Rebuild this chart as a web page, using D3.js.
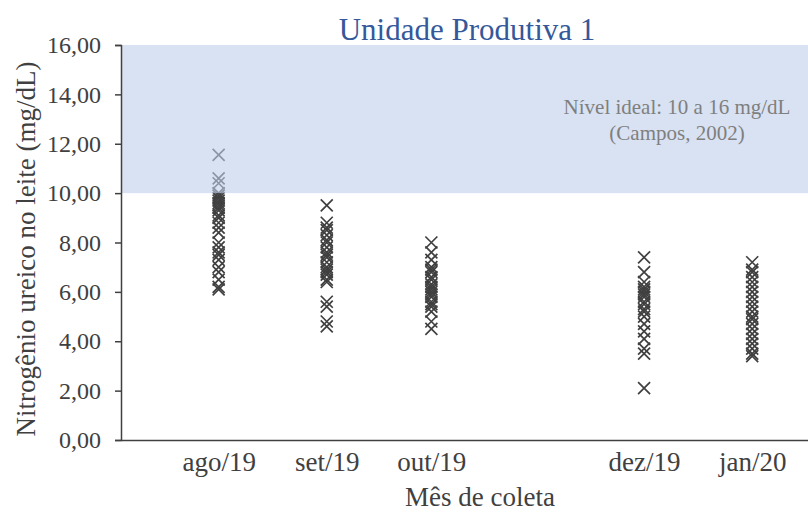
<!DOCTYPE html>
<html>
<head>
<meta charset="utf-8">
<script src="https://cdn.jsdelivr.net/npm/d3@7"></script>
<style>
body { margin: 0; background: #fff; }
svg, text { font-family: 'Liberation Serif', 'Times New Roman', serif; }
.tick-label { font-size: 24px; fill: #404040; }
.x-label { font-size: 27px; fill: #404040; }
.axis-title { font-size: 27px; fill: #404040; }
.note { font-size: 21px; fill: #7f7f7f; }
.mark { stroke: #404040; stroke-width: 1.7; fill: none; }
</style>
</head>
<body>
<div id="chart"></div>
<script>
// meses de coleta (dia da coleta) e rotulos
let months = ['ago/19', 'set/19', 'out/19', 'dez/19', 'jan/20']
let dates = ['2019-08-01', '2019-09-01', '2019-10-01', '2019-12-01', '2020-01-01']

// NUL (mg/dL) por mes
let ago19 = [11.55, 10.6, 10.4, 10.0, 9.9, 9.8, 9.7, 9.6, 9.5, 9.4, 9.3, 9.1, 9.0, 8.8, 8.6, 8.4, 8.0, 7.8, 7.6, 7.5, 7.3, 7.0, 6.8, 6.5, 6.2, 6.1]
let set19 = [9.5, 8.8, 8.6, 8.5, 8.3, 8.1, 8.0, 7.8, 7.6, 7.5, 7.4, 7.2, 7.0, 6.9, 6.8, 6.7, 6.5, 6.4, 5.6, 5.4, 4.8, 4.6]
let out19 = [8.0, 7.6, 7.3, 7.0, 6.9, 6.8, 6.6, 6.5, 6.3, 6.2, 6.1, 6.0, 5.9, 5.8, 5.6, 5.5, 5.4, 5.2, 4.8, 4.5]
let dez19 = [7.4, 6.8, 6.4, 6.2, 6.1, 6.0, 5.9, 5.8, 5.6, 5.5, 5.3, 5.2, 5.0, 4.7, 4.4, 4.1, 3.7, 3.5, 2.1]
let jan20 = [7.2, 6.9, 6.8, 6.6, 6.4, 6.2, 6.0, 5.8, 5.6, 5.4, 5.2, 5.0, 4.9, 4.7, 4.5, 4.3, 4.1, 3.9, 3.7, 3.5, 3.4]

let yTicks = [0, 2, 4, 6, 8, 10, 12, 14, 16]
let idealRange = [10, 16]

let width = 808, height = 513
let margin = { left: 121, right: 0, top: 45, bottom: 73 }

let parse = d3.timeParse('%Y-%m-%d')
let series = [ago19, set19, out19, dez19, jan20]
let points = []
series.forEach((vals, i) => {
	vals.forEach(v => points.push({ date: parse(dates[i]), value: v }))
})

let svg = d3.select('#chart')
.append('svg')
.attr('width', width)
.attr('height', height)

let x = d3.scaleTime()
.domain([parse('2019-07-04'), parse('2020-01-17')])
.range([margin.left, width - margin.right])

let y = d3.scaleLinear()
.domain([0, 16])
.range([height - margin.bottom, margin.top])

// pontos
let s = 6
svg.selectAll('.mark')
.data(points)
.join('path')
.attr('class', 'mark')
.attr('d', d => {
	let cx = x(d.date), cy = y(d.value)
	return `M${cx - s},${cy - s}L${cx + s},${cy + s}M${cx - s},${cy + s}L${cx + s},${cy - s}`
})

// faixa ideal (por cima dos pontos)
svg.append('rect')
.attr('x', margin.left + 1)
.attr('y', y(idealRange[1]))
.attr('width', width - margin.right - margin.left - 1)
.attr('height', y(idealRange[0]) - y(idealRange[1]))
.attr('fill', 'rgb(190, 206, 234)')
.attr('fill-opacity', 0.6)

svg.append('text')
.attr('class', 'note')
.attr('x', 677)
.attr('y', y(13.2))
.attr('text-anchor', 'middle')
.text('Nível ideal: 10 a 16 mg/dL')

svg.append('text')
.attr('class', 'note')
.attr('x', 677)
.attr('y', y(12.15))
.attr('text-anchor', 'middle')
.text('(Campos, 2002)')

// eixo y
let yAxis = svg.append('g')
.attr('transform', `translate(${margin.left}, 0)`)
.call(d3.axisLeft(y).tickValues(yTicks).tickSize(6).tickPadding(14)
	.tickFormat(d => d3.format('.2f')(d).replace('.', ',')))

yAxis.select('.domain').attr('stroke', '#404040').attr('stroke-width', 1.5)
yAxis.selectAll('.tick line').attr('stroke', '#404040').attr('stroke-width', 1.5)
yAxis.selectAll('.tick text')
.attr('class', 'tick-label')
.attr('fill', null)

// eixo x
let xAxis = svg.append('g')
.attr('transform', `translate(0, ${y(0)})`)
.call(d3.axisBottom(x).tickValues(dates.map(parse)).tickSize(0).tickPadding(12)
	.tickFormat((d, i) => months[i]))

xAxis.select('.domain').attr('stroke', '#404040').attr('stroke-width', 1.5)
xAxis.selectAll('.tick text')
.attr('class', 'x-label')
.attr('fill', null)
.attr('dy', null)
.attr('y', 31)

svg.selectAll('g').attr('font-size', null).attr('font-family', null)

// titulos
svg.append('text')
.attr('x', 467)
.attr('y', 40)
.attr('text-anchor', 'middle')
.style('font-size', '31px')
.attr('fill', '#34589a')
.text('Unidade Produtiva 1')

svg.append('text')
.attr('class', 'axis-title')
.attr('x', 480)
.attr('y', 506)
.attr('text-anchor', 'middle')
.text('Mês de coleta')

svg.append('text')
.attr('class', 'axis-title')
.attr('transform', `translate(35, 249) rotate(-90)`)
.attr('text-anchor', 'middle')
.text('Nitrogênio ureico no leite (mg/dL)')
</script>
</body>
</html>
